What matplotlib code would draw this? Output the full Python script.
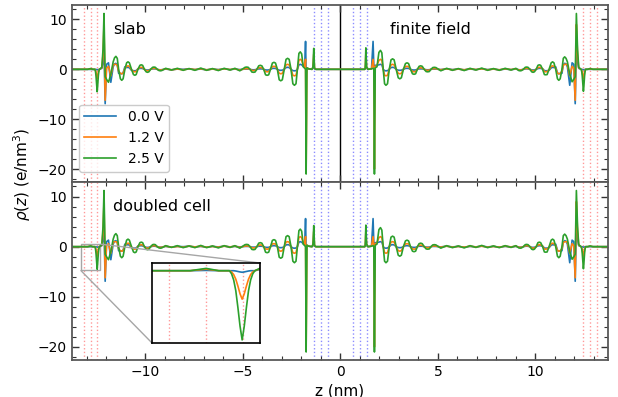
import matplotlib
matplotlib.use("Agg")
import matplotlib.pyplot as plt
from matplotlib.ticker import MultipleLocator
from mpl_toolkits.axes_grid1.inset_locator import mark_inset

# Charge density profiles rho(z) in e/nm^3, z in nm.
# Each half of the cell is stored region by region (wall, electrode
# oscillations, bulk, central oscillations, central layers).

# ---- left half ----
z_left_wall = [-13.75, -12.95, -12.80, -12.68, -12.58, -12.56, -12.54, -12.52, -12.50, -12.48,
               -12.46, -12.44, -12.42, -12.40, -12.38, -12.36, -12.34, -12.22, -12.16, -12.11,
               -12.05]
v00_left_wall = [0, 0, 0.02, 0, 0, 0, 0, -0.02, -0.05, -0.08,
                 -0.1, -0.08, -0.05, -0.02, 0, 0, 0, 0.2, 1.5, 4.0,
                 -6.9]
v12_left_wall = [0, 0, 0.10, 0, 0, -0.08, -0.25, -0.55, -1.0, -1.5,
                 -1.85, -1.5, -1.0, -0.55, -0.25, -0.08, 0, 0.3, 3.0, 9.0,
                 -6.2]
v25_left_wall = [0, 0, 0.15, 0, 0, -0.2, -0.6, -1.3, -2.4, -3.6,
                 -4.5, -3.6, -2.4, -1.3, -0.6, -0.2, 0, 0.4, 4.0, 11.2,
                 -1.5]

z_left_osc = [-11.98, -11.88, -11.76, -11.64, -11.57, -11.50, -11.43, -11.36, -11.27, -11.20,
              -11.13, -11.04, -10.95, -10.88, -10.81, -10.70, -10.60, -10.53, -10.46, -10.37,
              -10.27, -10.20, -10.13, -10.04, -9.95, -9.88, -9.81, -9.72, -9.62, -9.55,
              -9.48, -9.38, -9.29, -9.22, -9.15]
v00_left_osc = [1.0, 1.3, -2.6, 0.5, 1.1, 1.2, 0.9, -0.8, -0.85, -0.9,
                -0.7, 0.5, 0.35, 0.4, 0.3, -0.2, -0.28, -0.3, -0.25, 0.1,
                0.18, 0.2, 0.15, 0.0, -0.13, -0.15, -0.12, 0.0, 0.08, 0.1,
                0.08, 0.0, -0.08, -0.1, -0.08]
v12_left_osc = [0.2, 0.6, -1.3, 0.9, 1.0, 1.0, 0.8, -0.4, -0.8, -0.9,
                -0.8, 0.2, 0.6, 0.7, 0.6, -0.1, -0.45, -0.5, -0.45, 0.1,
                0.35, 0.4, 0.35, 0.0, -0.25, -0.3, -0.25, 0.0, 0.18, 0.2,
                0.18, 0.0, -0.12, -0.15, -0.12]
v25_left_osc = [-2.0, -2.6, -1.0, 1.5, 2.3, 2.6, 2.2, 0.0, -1.9, -2.2,
                -1.9, 0.0, 1.3, 1.5, 1.3, 0.0, -1.05, -1.2, -1.05, 0.0,
                0.8, 0.9, 0.8, 0.0, -0.5, -0.6, -0.5, 0.0, 0.4, 0.45,
                0.4, 0.0, -0.25, -0.3, -0.25]

z_left_bulk = [-8.95, -8.65, -8.35, -8.05, -7.75, -7.45, -7.15, -6.85, -6.55, -6.25,
               -5.95, -5.65, -5.40, -5.15]
v00_left_bulk = [0.05, -0.1, 0.05, 0.0, 0.1, -0.05, 0.05, -0.1, 0.05, -0.05,
                 0.1, -0.05, 0.05, -0.05]
v12_left_bulk = [0.1, -0.1, 0.05, -0.1, 0.1, -0.05, 0.1, -0.1, 0.05, -0.1,
                 0.1, -0.05, 0.1, -0.15]
v25_left_bulk = [0.2, -0.15, 0.2, -0.2, 0.15, -0.2, 0.25, -0.2, 0.15, -0.25,
                 0.2, -0.15, 0.2, -0.3]

z_left_mid = [-4.88, -4.80, -4.72, -4.625, -4.53, -4.45, -4.37, -4.275, -4.18, -4.10,
              -4.02, -3.925, -3.83, -3.75, -3.67, -3.575, -3.48, -3.40, -3.32, -3.225,
              -3.13, -3.05, -2.97, -2.875, -2.78, -2.70, -2.62, -2.525, -2.43, -2.35,
              -2.27, -2.20, -2.12, -2.05, -1.98, -1.90, -1.82]
v00_left_mid = [0.05, 0.05, 0.05, 0, -0.08, -0.1, -0.08, 0, 0.09, 0.1,
                0.09, 0, -0.13, -0.15, -0.13, 0, 0.18, 0.2, 0.18, 0,
                -0.18, -0.2, -0.18, 0, 0.35, 0.4, 0.35, 0, -0.27, -0.3,
                -0.27, 0, 0.9, 1.0, 0.9, 0.6, 1.0]
v12_left_mid = [0.13, 0.15, 0.13, 0, -0.22, -0.25, -0.22, 0, 0.3, 0.35,
                0.3, 0, -0.45, -0.5, -0.45, 0, 0.55, 0.6, 0.55, 0,
                -0.8, -0.9, -0.8, 0, 0.9, 1.0, 0.9, 0, -1.2, -1.3,
                -1.2, 0, 1.8, 2.0, 1.8, 0.8, 0.5]
v25_left_mid = [0.4, 0.45, 0.4, 0, -0.55, -0.6, -0.55, 0, 0.7, 0.8,
                0.7, 0, -1.1, -1.2, -1.1, 0, 1.25, 1.4, 1.25, 0,
                -2.1, -2.3, -2.1, 0, 2.0, 2.2, 2.0, 0, -2.9, -3.2,
                -2.9, 0, 3.2, 3.5, 3.1, 0.5, 0.2]

z_left_core = [-1.78, -1.75, -1.71, -1.62, -1.45, -1.40, -1.36, -1.32, -1.25]
v00_left_core = [5.6, -1.0, 0.2, 0.1, 0.0, 0.2, 1.0, 0.1, 0]
v12_left_core = [2.0, -20.0, 0.3, 0.1, 0.0, 0.4, 3.0, 0.2, 0]
v25_left_core = [0.0, -21.0, 0.3, 0.1, 0.0, 0.5, 4.2, 0.2, 0]

# ---- right half ----
z_right_core = [1.25, 1.28, 1.31, 1.35, 1.42, 1.60, 1.68, 1.72, 1.75, 1.79, 1.88]
v00_right_core = [0, 0.1, 1.0, 0.2, 0, 0.1, 5.6, 0.5, -1.0, 0.8, 0.8]
v12_right_core = [0, 0.2, 3.0, 0.4, 0, 0.1, 2.0, 0.3, -20.0, 0.5, 0.8]
v25_right_core = [0, 0.2, 4.3, 0.5, 0, 0.1, 0.2, 0.0, -21.0, 0.3, 0.5]

z_right_mid = [1.98, 2.06, 2.13, 2.20, 2.27, 2.34, 2.42, 2.51, 2.60, 2.68,
               2.76, 2.865, 2.97, 3.05, 3.13, 3.235, 3.34, 3.42, 3.50, 3.60,
               3.70, 3.78, 3.86, 3.95, 4.04, 4.12, 4.20, 4.30, 4.40, 4.48,
               4.56, 4.65, 4.74, 4.82, 4.90]
v00_right_mid = [0.9, 1.0, 0.9, 0, -0.27, -0.3, -0.27, 0, 0.35, 0.4,
                 0.35, 0, -0.18, -0.2, -0.18, 0, 0.18, 0.2, 0.18, 0,
                 -0.13, -0.15, -0.13, 0, 0.09, 0.1, 0.09, 0, -0.08, -0.1,
                 -0.08, 0, 0.05, 0.05, 0.05]
v12_right_mid = [1.8, 2.0, 1.8, 0, -1.2, -1.3, -1.2, 0, 0.9, 1.0,
                 0.9, 0, -0.8, -0.9, -0.8, 0, 0.55, 0.6, 0.55, 0,
                 -0.45, -0.5, -0.45, 0, 0.27, 0.3, 0.27, 0, -0.18, -0.2,
                 -0.18, 0, 0.13, 0.15, 0.13]
v25_right_mid = [3.4, 3.8, 3.3, 0, -2.9, -3.2, -2.9, 0, 1.9, 2.1,
                 1.9, 0, -1.7, -1.9, -1.7, 0, 1.15, 1.3, 1.15, 0,
                 -0.9, -1.0, -0.9, 0, 0.6, 0.7, 0.6, 0, -0.45, -0.5,
                 -0.45, 0, 0.35, 0.4, 0.35]

z_right_bulk = [5.15, 5.45, 5.75, 6.05, 6.35, 6.65, 6.95, 7.25, 7.55, 7.85,
                8.15, 8.45, 8.75, 9.00]
v00_right_bulk = [-0.05, 0.1, -0.05, 0.05, -0.1, 0.05, -0.05, 0.1, -0.05, 0.05,
                  -0.1, 0.05, -0.05, 0.05]
v12_right_bulk = [-0.1, 0.1, -0.1, 0.05, -0.1, 0.1, -0.05, 0.1, -0.1, 0.05,
                  -0.1, 0.1, -0.05, 0.1]
v25_right_bulk = [-0.3, 0.2, -0.2, 0.15, -0.25, 0.2, -0.15, 0.25, -0.2, 0.15,
                  -0.2, 0.2, -0.15, 0.2]

z_right_osc = [9.15, 9.22, 9.29, 9.38, 9.48, 9.55, 9.62, 9.72, 9.81, 9.88,
               9.95, 10.04, 10.13, 10.20, 10.27, 10.37, 10.46, 10.53, 10.60, 10.70,
               10.81, 10.88, 10.95, 11.04, 11.13, 11.20, 11.27, 11.36, 11.43, 11.50,
               11.57, 11.64, 11.76, 11.88, 11.97]
v00_right_osc = [-0.08, -0.1, -0.08, 0.0, 0.08, 0.1, 0.08, 0.0, -0.12, -0.15,
                 -0.12, 0.0, 0.15, 0.2, 0.18, 0.1, -0.25, -0.3, -0.28, -0.2,
                 0.3, 0.4, 0.35, 0.5, -0.7, -0.9, -0.85, -0.8, 0.9, 1.2,
                 1.1, 0.5, -3.2, 1.3, 1.0]
v12_right_osc = [-0.12, -0.15, -0.12, 0.0, 0.18, 0.2, 0.18, 0.0, -0.25, -0.3,
                 -0.25, 0.0, 0.35, 0.4, 0.35, 0.1, -0.45, -0.5, -0.45, -0.1,
                 0.6, 0.7, 0.6, 0.2, -0.8, -0.9, -0.8, -0.4, 0.8, 1.0,
                 1.0, 0.9, -1.3, 0.6, 0.2]
v25_right_osc = [-0.25, -0.3, -0.25, 0.0, 0.4, 0.45, 0.4, 0.0, -0.5, -0.6,
                 -0.5, 0.0, 0.8, 0.9, 0.8, 0.0, -1.05, -1.1, -1.05, 0.0,
                 1.3, 1.5, 1.3, 0.0, -1.9, -2.2, -1.9, 0.0, 2.2, 2.5,
                 2.2, 1.5, -1.0, -2.5, -2.0]

z_right_wall = [12.04, 12.10, 12.16, 12.22, 12.34, 12.36, 12.38, 12.40, 12.42, 12.44,
                12.46, 12.48, 12.50, 12.52, 12.54, 12.56, 12.58, 12.68, 12.80, 12.95,
                13.75]
v00_right_wall = [-6.9, 4.0, 1.5, 0.2, 0, 0, 0, -0.02, -0.05, -0.08,
                  -0.1, -0.08, -0.05, -0.02, 0, 0, 0, 0, 0.02, 0,
                  0]
v12_right_wall = [-6.2, 9.0, 3.0, 0.3, 0, -0.08, -0.25, -0.55, -1.0, -1.5,
                  -1.85, -1.5, -1.0, -0.55, -0.25, -0.08, 0, 0, 0.10, 0,
                  0]
v25_right_wall = [-1.5, 11.2, 4.0, 0.4, 0, -0.2, -0.6, -1.3, -2.4, -3.6,
                  -4.4, -3.6, -2.4, -1.3, -0.6, -0.2, 0, 0, 0.15, 0,
                  0]

z = (z_left_wall + z_left_osc + z_left_bulk + z_left_mid + z_left_core
     + z_right_core + z_right_mid + z_right_bulk + z_right_osc + z_right_wall)
rho_00 = (v00_left_wall + v00_left_osc + v00_left_bulk + v00_left_mid + v00_left_core
          + v00_right_core + v00_right_mid + v00_right_bulk + v00_right_osc + v00_right_wall)
rho_12 = (v12_left_wall + v12_left_osc + v12_left_bulk + v12_left_mid + v12_left_core
          + v12_right_core + v12_right_mid + v12_right_bulk + v12_right_osc + v12_right_wall)
rho_25 = (v25_left_wall + v25_left_osc + v25_left_bulk + v25_left_mid + v25_left_core
          + v25_right_core + v25_right_mid + v25_right_bulk + v25_right_osc + v25_right_wall)

labels = ["0.0 V", "1.2 V", "2.5 V"]
colors = ["#1f77b4", "#ff7f0e", "#2ca02c"]
series = [rho_00, rho_12, rho_25]

# electrode atom layers (red) and central layers (blue)
wall_layers = [-13.15, -12.8, -12.45, 12.45, 12.8, 13.15]
center_layers = [-1.35, -1.0, -0.65, 0.65, 1.0, 1.35]

plt.rcParams["font.family"] = "DejaVu Sans"
plt.rcParams["mathtext.fontset"] = "dejavusans"

fig = plt.figure(figsize=(6.18, 3.97), dpi=100)
ax1 = fig.add_axes([0.1165, 0.5416, 0.8673, 0.4458])
ax2 = fig.add_axes([0.1165, 0.0932, 0.8673, 0.4484], sharex=ax1)


def style(ax):
    ax.set_xlim(-13.75, 13.72)
    ax.set_ylim(-22.6, 12.9)
    ax.xaxis.set_major_locator(MultipleLocator(5))
    ax.xaxis.set_minor_locator(MultipleLocator(1))
    ax.yaxis.set_major_locator(MultipleLocator(10))
    ax.yaxis.set_minor_locator(MultipleLocator(2))
    ax.tick_params(which="both", direction="in", top=True, right=True,
                   labelsize=10, color="0.2")
    ax.tick_params(which="major", length=5, width=1)
    ax.tick_params(which="minor", length=3, width=0.8)
    for s in ax.spines.values():
        s.set_color("0.35")
        s.set_linewidth(1.3)


def draw_layers(ax):
    for x in wall_layers:
        ax.axvline(x, color="red", alpha=0.4, ls=":", lw=1.0, zorder=1)
    for x in center_layers:
        ax.axvline(x, color="blue", alpha=0.45, ls=":", lw=1.0, zorder=1)


def draw_profiles(ax, lw=1.2):
    for rho, lab, c in zip(series, labels, colors):
        ax.plot(z, rho, color=c, lw=lw, label=lab, zorder=2)


for ax in (ax1, ax2):
    style(ax)
    draw_layers(ax)
    draw_profiles(ax)

ax1.axvline(0, color="black", lw=1.0, zorder=1)
plt.setp(ax1.get_xticklabels(), visible=False)

ax1.text(0.077, 0.86, "slab", transform=ax1.transAxes, fontsize=11.5, va="center")
ax1.text(0.593, 0.86, "finite field", transform=ax1.transAxes, fontsize=11.5, va="center")
ax2.text(0.077, 0.86, "doubled cell", transform=ax2.transAxes, fontsize=11.5, va="center")

ax1.legend(loc="lower left", bbox_to_anchor=(0.0, 0.02), fontsize=10,
           frameon=True, framealpha=0.8, edgecolor="0.75", handlelength=2.3)

ax2.set_xlabel("z (nm)", fontsize=11, labelpad=3)
fig.text(0.036, 0.56, r"$\rho(z)$ (e/nm$^3$)", rotation=90, fontsize=11,
         ha="center", va="center")

# zoom on the left electrode layer
axins = fig.add_axes([0.246, 0.136, 0.175, 0.2015])
draw_layers(axins)
draw_profiles(axins, lw=1.2)
axins.set_xlim(-13.31, -12.29)
axins.set_ylim(-4.7, 0.5)
axins.set_xticks([])
axins.set_yticks([])
for s in axins.spines.values():
    s.set_color("black")
    s.set_linewidth(1.2)
mark_inset(ax2, axins, loc1=1, loc2=3, fc="none", ec="0.65", lw=1.0)

fig.savefig("out.png", dpi=100)
